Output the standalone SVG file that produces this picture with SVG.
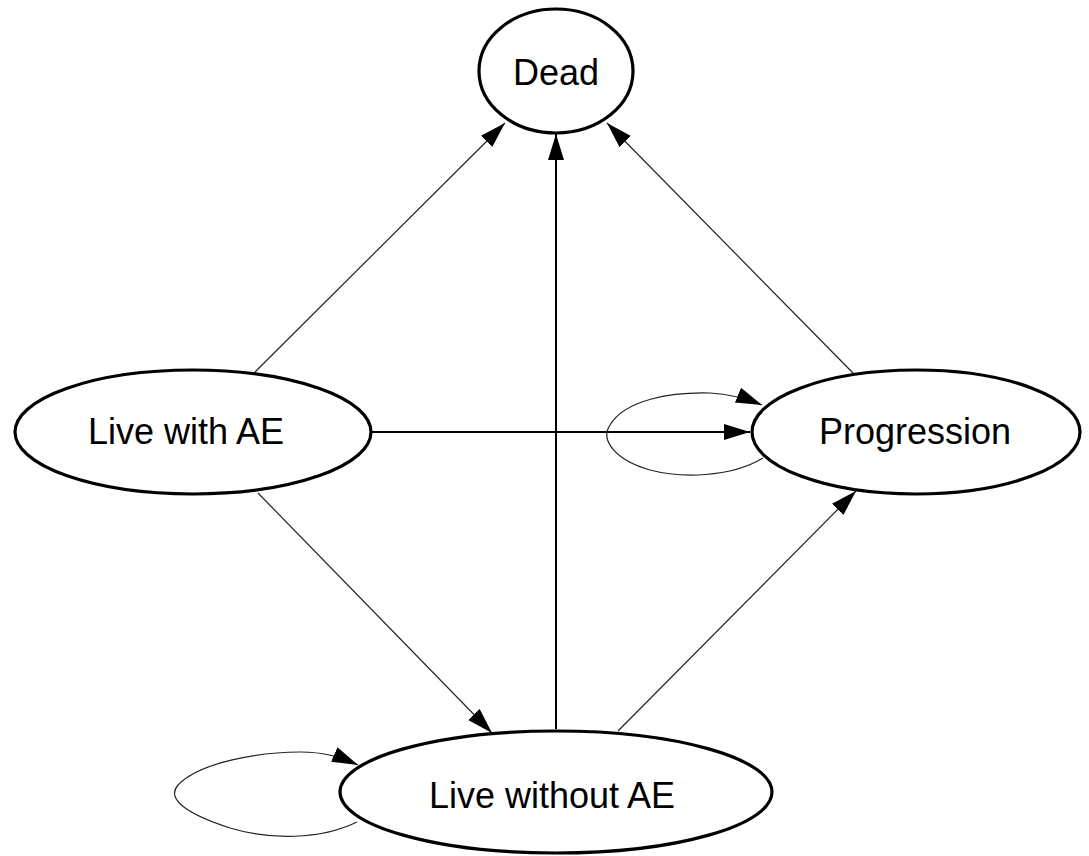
<svg xmlns="http://www.w3.org/2000/svg" width="1089" height="856" viewBox="0 0 1089 856">
<style>
.node ellipse{fill:#fff;stroke:#000;stroke-width:3.2}
.node text{font-family:"Liberation Sans",Arial,sans-serif;font-size:36px;fill:#000;text-anchor:middle}
.thin{fill:none;stroke:#222;stroke-width:1.2}
.thick{fill:none;stroke:#000;stroke-width:2}
</style>
<defs>
<marker id="ah" markerUnits="userSpaceOnUse" markerWidth="28" markerHeight="18" refX="26" refY="8" orient="auto">
<path d="M0,0 L26,8 L0,16 z" fill="#000"/>
</marker>
</defs>
<rect width="1089" height="856" fill="#fff"/>
<g id="connectors">
<line class="thin" x1="255" y1="372" x2="505" y2="123" marker-end="url(#ah)"/>
<line class="thick" x1="556" y1="729" x2="556" y2="134" marker-end="url(#ah)"/>
<line class="thin" x1="853" y1="373" x2="607" y2="123" marker-end="url(#ah)"/>
<line class="thick" x1="372" y1="432" x2="750" y2="432" marker-end="url(#ah)"/>
<line class="thin" x1="258" y1="493" x2="492" y2="733" marker-end="url(#ah)"/>
<line class="thin" x1="618" y1="731" x2="856" y2="491" marker-end="url(#ah)"/>
<path class="thin" d="M763,458 C730,478 680,478 650,470 C615,460 600,440 610,425 C625,400 670,392 710,393 C730,394 745,398 762,405" marker-end="url(#ah)"/>
<path class="thin" d="M357,822 C320,840 270,840 230,828 C190,815 165,800 178,785 C200,762 260,752 300,752 C325,752 340,757 358,765" marker-end="url(#ah)"/>
</g>
<g id="dead" class="node">
<ellipse cx="556" cy="71" rx="77" ry="62"/>
<text x="556" y="85">Dead</text>
</g>
<g id="live-with-ae" class="node">
<ellipse cx="193" cy="432" rx="178" ry="62"/>
<text x="186" y="444">Live with AE</text>
</g>
<g id="progression" class="node">
<ellipse cx="916" cy="432" rx="164" ry="62"/>
<text x="915" y="444">Progression</text>
</g>
<g id="live-without-ae" class="node">
<ellipse cx="556" cy="792" rx="216" ry="61"/>
<text x="552" y="808">Live without AE</text>
</g>
</svg>
